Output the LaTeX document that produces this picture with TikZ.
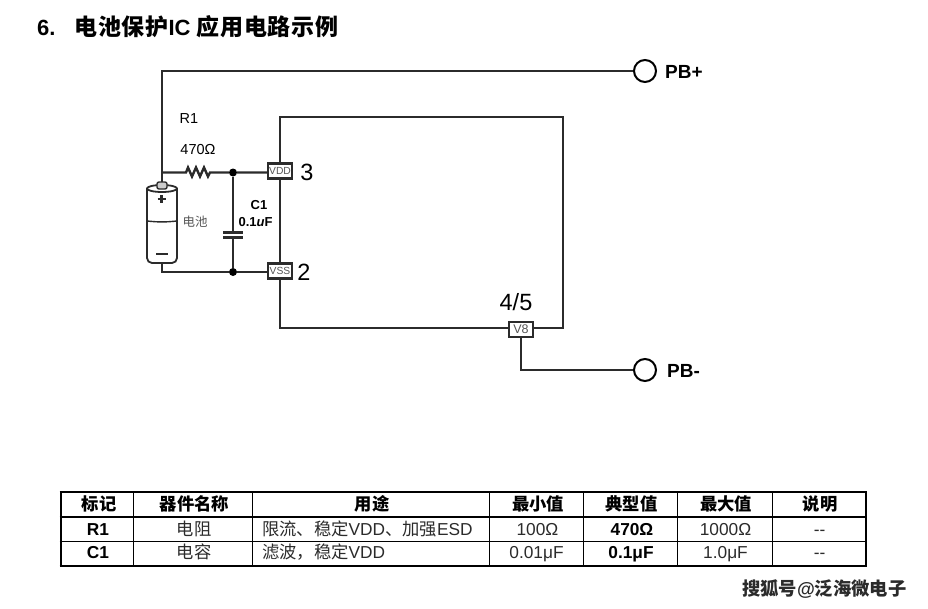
\documentclass[tikz,border=0pt]{standalone}
\usepackage{fontspec}
\setmainfont{Liberation Sans}
\newfontfamily\cjk{Noto Sans CJK SC}
\newfontfamily\cjktitle[LetterSpace=3]{Noto Sans CJK SC}
\usetikzlibrary{positioning}
\definecolor{wirecol}{HTML}{2B2B2B}
\definecolor{inkgray}{HTML}{555555}
\newcommand{\zh}[1]{{\cjk #1}}
\newcommand{\zhtitle}[1]{{\cjktitle #1}}

\begin{document}
\begin{tikzpicture}[
        x=1pt,y=-1pt,
        wire/.style={draw=wirecol,line width=2.4pt},
        port/.style={circle,draw=black,line width=2pt,fill=white,minimum size=22pt,inner sep=0pt},
        pinbox/.style={rectangle,draw=wirecol,line width=2.2pt,fill=white,minimum width=24pt,minimum height=15pt,inner sep=0pt,text=inkgray,font=\fontsize{10.3}{10.3}\selectfont},
        dot/.style={circle,fill=black,minimum size=8pt,inner sep=0pt},
        lbl/.style={inner sep=0pt,font=\fontsize{14.5}{14.5}\selectfont},
        pinnum/.style={inner sep=0pt,font=\fontsize{23.5}{23.5}\selectfont},
        porttext/.style={inner sep=0pt,font=\fontsize{19}{19}\selectfont\bfseries,anchor=west},
        cellhead/.style={inner sep=0pt,font=\fontsize{17.3}{17.3}\selectfont\bfseries},
        cellbody/.style={inner sep=0pt,anchor=base,text=wirecol,font=\fontsize{17.3}{17.3}\selectfont},
        cellbold/.style={inner sep=0pt,anchor=base,font=\fontsize{17.3}{17.3}\selectfont\bfseries}
    ]
    \useasboundingbox (0,0) rectangle (928,608);
    \node[inner sep=0pt,anchor=west,font=\fontsize{22}{22}\selectfont\bfseries] (title) at (37,27)
        {6.\hspace{19pt}{\fontsize{23}{23}\selectfont\zhtitle{电池保护}}IC {\fontsize{23}{23}\selectfont\zhtitle{应用电路示例}}};

    % chip body and pins
    \draw[wire] (280,117) rectangle (563,328);
    \node[pinbox] (vdd) at (280,171) {VDD};
    \node[pinbox] (vss) at (280,271) {VSS};
    \node[pinbox,font=\fontsize{12.5}{12.5}\selectfont] (vm) at (521,329.5) {V8};
    \node[pinnum] (n3) at (307,172) {3};
    \node[pinnum] (n2) at (304,272) {2};
    \node[pinnum] (n45) at (516,302) {4/5};

    % terminals
    \node[port] (pbp) at (645,71) {};
    \node[port] (pbm) at (645,370) {};
    \node[porttext] (pbptext) at (665,72) {PB+};
    \node[porttext] (pbmtext) at (667,371) {PB-};

    % battery
    \coordinate (batt) at (162,184);
    \coordinate (battb) at (162,263);
    \draw[wire] (pbp) -- (162,71) -- (batt);
    \draw[wire,line width=1.8pt,fill=white] (147,188.5) arc (180:360:15 and 3.5) -- (177,258) arc (0:90:5) -- (152,263) arc (90:180:5) -- cycle;
    \draw[wire,line width=1.8pt] (147,188.5) arc (180:0:15 and 3.5);
    \draw[wire,line width=1.4pt] (147,221) to[bend right=6] (177,221);
    \draw[wire,line width=1.4pt,fill=gray!40,rounded corners=2pt] (157,182) rectangle (167,189);
    \draw[wire,line width=2.5pt] (157.5,199) -- (165.5,199) (161.5,195) -- (161.5,203);
    \draw[wire,line width=2.5pt] (156,254) -- (168,254);
    \node[lbl,text=inkgray,font=\fontsize{12.5}{12.5}\selectfont] (battlbl) at (195,222) {\zh{电池}};

    % resistor, capacitor
    \coordinate (rtap) at (162,172.5);
    \coordinate (rin) at (186,172.5);
    \coordinate (rout) at (210,172.5);
    \node[dot] (jtop) at (233,172.5) {};
    \node[dot] (jbot) at (233,272) {};
    \coordinate (ctop) at (233,232.5);
    \coordinate (cbot) at (233,237);
    \draw[wire] (rtap) -- (rin) -- ++(2,-5) -- ++(4,9) -- ++(4,-9) -- ++(4,9) -- ++(4,-9) -- ++(4,9) -- (rout) -- (jtop) -- (jtop -| vdd.west);
    \draw[wire] (jtop) -- (ctop) (cbot) -- (jbot);
    \draw[wire] (223,232.5) -- (243,232.5) (223,237.5) -- (243,237.5);
    \draw[wire] (battb) -- (162,272) -- (jbot) -- (jbot -| vss.west);
    \node[lbl] (r1) at (189,119) {R1};
    \node[lbl] (r1val) at (198,149.5) {470Ω};
    \node[lbl,font=\fontsize{13}{13}\selectfont\bfseries] (c1) at (259,205) {C1};
    \node[lbl,font=\fontsize{13}{13}\selectfont\bfseries] (c1val) at (255.5,222) {0.1\textit{u}F};

    \draw[wire] (vm) -- (521,370) -- (pbm);

    % table
    \foreach \x/\w in {61/2.6,133.5/1.6,252/1,489/1,583.5/1,677.5/1,772/1,866/2.6}
        \draw[black,line width=\w pt] (\x,492) -- (\x,566);
    \foreach \y/\w in {492/2.6,517/2.6,541/1,566/2.6}
        \draw[black,line width=\w pt] (59.7,\y) -- (867.3,\y);

    \foreach \name/\x/\txt in {hmark/99/标记,hname/194.5/器件名称,huse/372/用途,hmin/538/最小值,htyp/631.5/典型值,hmax/726/最大值,hnote/820/说明}
        \node[cellhead] (\name) at (\x,504) {\zh{\txt}};

    \node[cellbold] (ar) at (98,535) {R1};
    \node[cellbody] (br) at (194,535) {\zh{电阻}};
    \node[cellbody,anchor=base west] (cr) at (262,535) {\zh{限流、稳定}VDD\zh{、加强}ESD};
    \node[cellbody] (dr) at (537.5,535) {100Ω};
    \node[cellbold] (er) at (632,535) {470Ω};
    \node[cellbody] (fr) at (725.5,535) {1000Ω};
    \node[cellbody] (gr) at (819.5,535) {-{}-};

    \node[cellbold] (ac) at (98,558) {C1};
    \node[cellbody] (bc) at (194,558) {\zh{电容}};
    \node[cellbody,anchor=base west] (cc) at (262,558) {\zh{滤波，稳定}VDD};
    \node[cellbody] (dc) at (536.5,558) {0.01μF};
    \node[cellbold] (ec) at (631,558) {0.1μF};
    \node[cellbody] (fc) at (725.5,558) {1.0μF};
    \node[cellbody] (gc) at (819.5,558) {-{}-};

    \node[inner sep=0pt,anchor=west,text=wirecol,font=\fontsize{18.3}{18.3}\selectfont\bfseries] (mark) at (742,589) {\zh{搜狐号}@\zh{泛海微电子}};
\end{tikzpicture}
\end{document}
